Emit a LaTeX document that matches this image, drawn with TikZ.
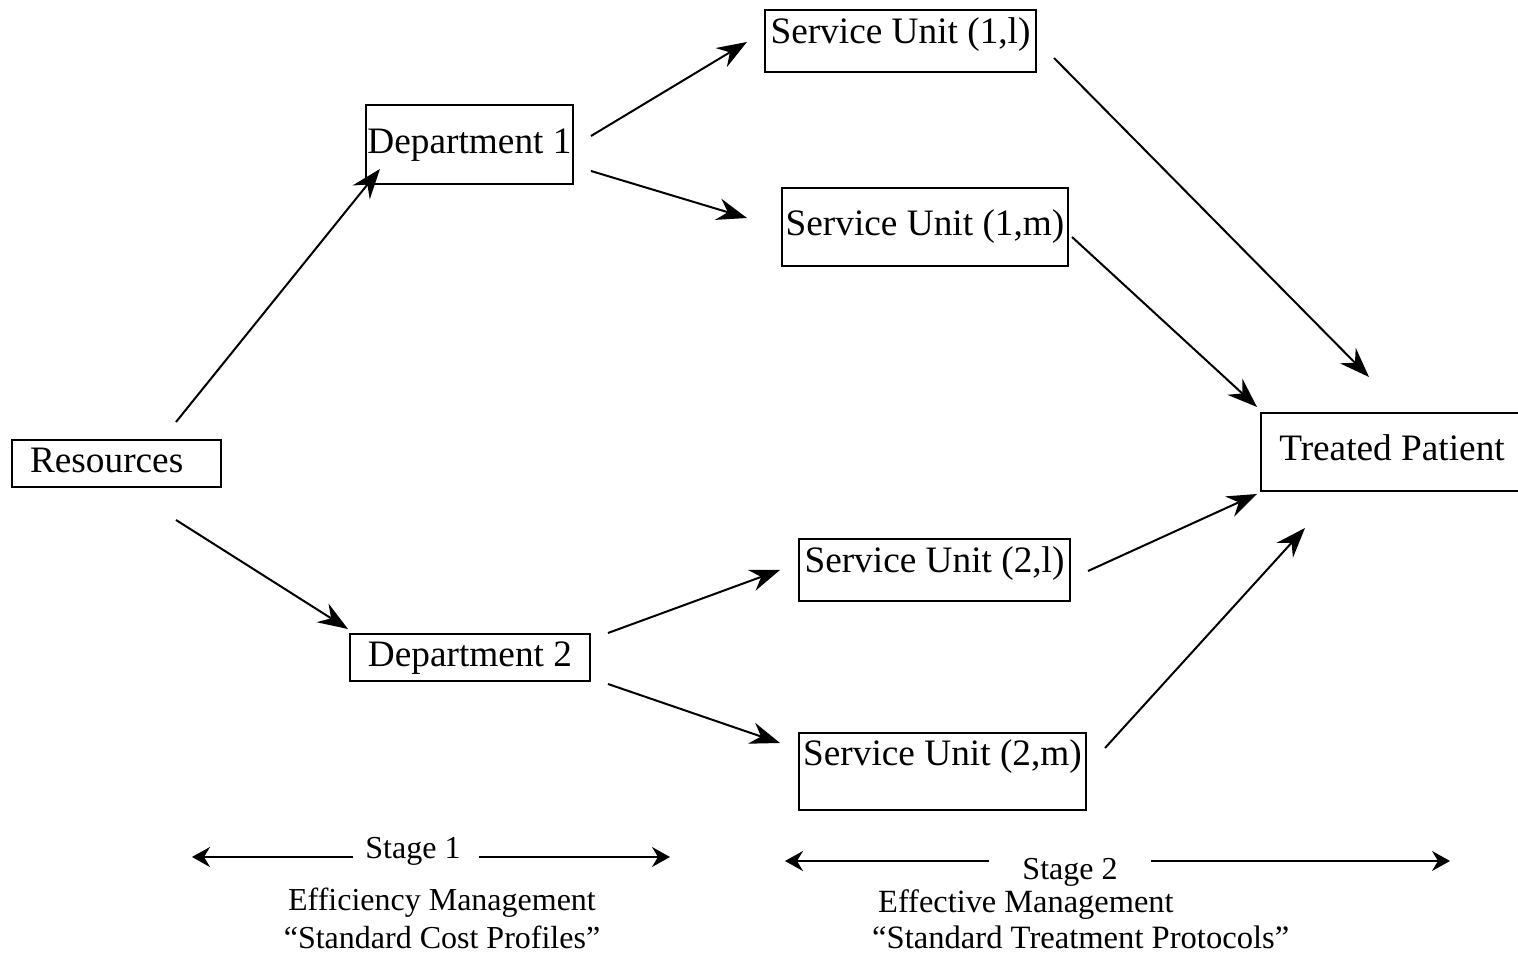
\documentclass[tikz,border=0pt]{standalone}
\usepackage{fontspec}
\setmainfont{Liberation Serif}
\usetikzlibrary{arrows.meta,calc}
\begin{document}
\begin{tikzpicture}[x=1pt,y=1pt,
  box/.style={draw, line width=2pt, inner xsep=0pt, inner ysep=0pt,
    font=\fontsize{37.3}{44}\selectfont, text height=25, text depth=7},
  arr/.style={line width=2pt, -{Stealth[length=30,width=22,inset=10]}},
  sarr/.style={line width=2pt, -{Stealth[length=18,width=20,inset=6]}},
  lbl/.style={inner sep=0pt, font=\fontsize{32}{38}\selectfont}]
\useasboundingbox (0,0) rectangle (1518,956);
% boxes
\node[box, text width=173, align=left, inner xsep=18, minimum height=47] (res) at (116.5,492.5) {Resources};
\node[box, minimum width=207, minimum height=79] (d1) at (469.5,811.5) {Department 1};
\node[box, minimum width=240, minimum height=47] (d2) at (470,298.5) {Department 2};
\node[box, minimum width=271, minimum height=62, text depth=20] (su1l) at (900.5,915) {Service Unit (1,l)};
\node[box, minimum width=286, minimum height=78] (su1m) at (925,729) {Service Unit (1,m)};
\node[box, minimum width=271, minimum height=62, text depth=20] (su2l) at (934.5,386) {Service Unit (2,l)};
\node[box, minimum width=287, minimum height=77, text depth=36] (su2m) at (942.5,184.5) {Service Unit (2,m)};
\node[box, minimum width=262, minimum height=78] (tp) at (1392,504) {Treated Patient};
% connectors
\draw[arr] ([shift={(-46,17)}]res.north east) -- ([shift={(15,16)}]d1.south west);
\draw[arr] ([shift={(-46,-32)}]res.south east) -- ([shift={(-1,4)}]d2.north west);
\draw[arr] ([shift={(17,8.5)}]d1.east) -- ([shift={(-17,-1)}]su1l.west);
\draw[arr] ([shift={(17,-26.5)}]d1.east) -- ([shift={(-34,9)}]su1m.west);
\draw[arr] ([shift={(17,24.5)}]d2.east) -- ([shift={(-18,0)}]su2l.west);
\draw[arr] ([shift={(17,-26.5)}]d2.east) -- ([shift={(-18,28.5)}]su2m.west);
\draw[arr] ([shift={(17,-17)}]su1l.east) -- ([shift={(109,35)}]tp.north west);
\draw[arr] ([shift={(3,-10)}]su1m.east) -- ([shift={(-3,5)}]tp.north west);
\draw[arr] ([shift={(17,-1)}]su2l.east) -- ([shift={(-3,-2)}]tp.south west);
\draw[arr] ([shift={(18,23.5)}]su2m.east) -- ([shift={(45,-36)}]tp.south west);
% stages
\node[lbl, anchor=base] (st1) at (413,97) {Stage 1};
\coordinate (s1l) at (192,99);
\coordinate (s1r) at (670,99);
\draw[sarr] ($(st1.west |- s1l)+(-12,0)$) -- (s1l);
\draw[sarr] ($(st1.east |- s1r)+(18,0)$) -- (s1r);
\node[lbl, anchor=base] (st2) at (1070,76) {Stage 2};
\coordinate (s2l) at (785,95);
\coordinate (s2r) at (1450,95);
\draw[sarr] ($(st2.west |- s2l)+(-33,0)$) -- (s2l);
\draw[sarr] ($(st2.east |- s2r)+(33,0)$) -- (s2r);
\node[lbl, anchor=base] (eff) at (442,46) {Efficiency Management};
\node[lbl, anchor=base] (scp) at (442,8) {``Standard Cost Profiles''};
\node[lbl, anchor=base west, font=\fontsize{32.4}{38}\selectfont] (efm) at (878,44) {Effective Management};
\node[lbl, anchor=base west, font=\fontsize{32.6}{38}\selectfont] (stp) at (872,8) {``Standard Treatment Protocols''};
\end{tikzpicture}
\end{document}
